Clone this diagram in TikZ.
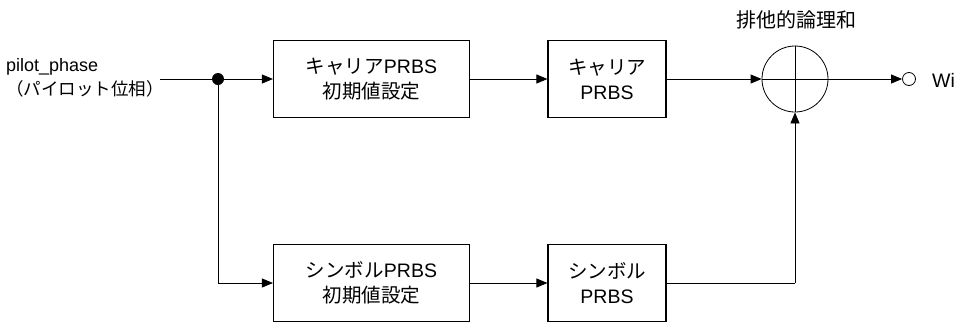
\documentclass[tikz,border=0pt]{standalone}
\usepackage{fontspec}
\setmainfont{Liberation Sans}
\newfontfamily\jp{Noto Sans CJK JP}
\usetikzlibrary{arrows.meta}
\begin{document}
\begin{tikzpicture}[x=1pt,y=-1pt,
  blk/.style={draw,line width=1.1pt,minimum width=196pt,minimum height=77pt,align=center,font=\fontsize{19.5}{25}\selectfont,inner sep=0pt},
  blk2/.style={blk,minimum width=118pt},
  wire/.style={line width=0.8pt},
  arr/.style={wire,-{Triangle[length=11pt,width=9pt]}},
  lbl/.style={font=\fontsize{18}{23.5}\selectfont,inner sep=0pt}]
\useasboundingbox (0,0) rectangle (962,322);
\node[blk] (cinit) at (371.5,79) {{\jp キャリア}PRBS\\{\jp 初期値設定}};
\node[blk2] (cprbs) at (607,79) {{\jp キャリア}\\PRBS};
\node[blk] (sinit) at (371.5,283) {{\jp シンボル}PRBS\\{\jp 初期値設定}};
\node[blk2] (sprbs) at (607,283) {{\jp シンボル}\\PRBS};
\node[draw,circle,line width=0.8pt,minimum size=66pt,inner sep=0pt] (xor) at (795,79) {};
\draw[wire] (xor.north) -- (xor.south) (xor.west) -- (xor.east);
\node[lbl,font=\jp\fontsize{20}{24}\selectfont] (xorlbl) at (796,20) {排他的論理和};
\node[draw,circle,line width=0.8pt,minimum size=13pt,inner sep=0pt] (out) at (909,79) {};
\node[lbl,anchor=west,font=\fontsize{19.5}{24}\selectfont] (outlbl) at (932,80) {Wi};
\node[lbl,anchor=west,align=left] (in) at (6,78) {pilot\_phase\\{\jp\fontsize{17.5}{23.5}\selectfont （パイロット位相）}};
\coordinate (start) at (160,79);
\node[circle,fill,inner sep=0pt,minimum size=12pt] (dot) at (218,79) {};
\coordinate (corner) at (218,283);
\coordinate (corner2) at (795,283);
\draw[wire] (start) -- (dot);
\draw[arr] (dot) -- (cinit.west);
\draw[wire] (dot) -- (corner);
\draw[arr] (corner) -- (sinit.west);
\draw[arr] (cinit.east) -- (cprbs.west);
\draw[arr] (sinit.east) -- (sprbs.west);
\draw[arr] (cprbs.east) -- (xor.west);
\draw[wire] (sprbs.east) -- (corner2);
\draw[arr] (corner2) -- (xor.south);
\draw[arr] (xor.east) -- (out.west);
\end{tikzpicture}
\end{document}
